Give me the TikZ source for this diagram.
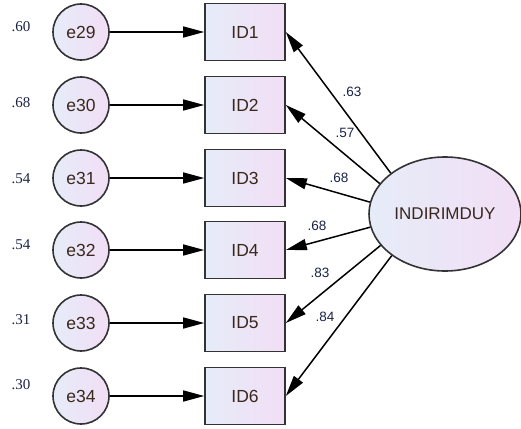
\documentclass[tikz,border=0pt]{standalone}
\usepackage{fontspec}
\setmainfont{Liberation Sans}
\newfontfamily\numfont{Liberation Serif}
\usetikzlibrary{arrows.meta,shapes.geometric}
\definecolor{fillL}{HTML}{E6ECF8}
\definecolor{fillR}{HTML}{F2DEF6}
\definecolor{txt}{HTML}{3A281C}
\definecolor{lbl}{HTML}{1A2246}
\begin{document}
\begin{tikzpicture}[x=1pt,y=-1pt,
  obs/.style={draw=black!80,line width=1.6pt,left color=fillL,right color=fillR,
    minimum width=80pt,minimum height=57pt,inner sep=0pt,
    font=\fontsize{17.5}{17.5}\selectfont,text=txt},
  err/.style={circle,draw=black!80,line width=1.6pt,left color=fillL,right color=fillR,
    minimum size=56pt,inner sep=0pt,font=\fontsize{17.5}{17.5}\selectfont,text=txt},
  lat/.style={ellipse,draw=black!80,line width=1.6pt,left color=fillL,right color=fillR,
    minimum width=152pt,minimum height=114pt,inner sep=0pt,
    font=\fontsize{17}{17}\selectfont,text=txt},
  regarrow/.style={line width=1.5pt,-{Triangle[length=21pt,width=11pt]}},
  varlbl/.style={font=\numfont\fontsize{15}{15}\selectfont,text=lbl,inner sep=0pt},
  wlbl/.style={font=\fontsize{13.5}{13.5}\selectfont,text=lbl,inner sep=0pt}]
\useasboundingbox (0,0) rectangle (521,428);

% latent factor
\node[lat] (F) at (445,214) {INDIRIMDUY};

% indicators, error terms and squared multiple correlations
\foreach \i/\e/\y/\r/\ry in {1/29/32/.60/27,2/30/105/.68/103,3/31/178/.54/179,
                             4/32/250/.54/245,5/33/323/.31/320,6/34/396/.30/385}{
  \node[obs] (ID\i) at (245,\y) {ID\i};
  \node[err] (e\e) at (81,\y) {e\e};
  \node[varlbl] (r\i) at (21,\ry) {\r};
  \draw[regarrow] (e\e) -- (ID\i);
}

% factor loadings
\draw[regarrow] (F.143) -- (ID1.east);
\draw[regarrow] (F.155) -- (ID2.east);
\draw[regarrow] (F.171) -- (ID3.east);
\draw[regarrow] (F.190) -- (ID4.east);
\draw[regarrow] (F.206) -- (ID5.east);
\draw[regarrow] (F.218) -- (ID6.east);

\node[wlbl] (w1) at (352,92) {.63};
\node[wlbl] (w2) at (345,133) {.57};
\node[wlbl] (w3) at (339,178) {.68};
\node[wlbl] (w4) at (317,226) {.68};
\node[wlbl] (w5) at (320,273) {.83};
\node[wlbl] (w6) at (325,317) {.84};
\end{tikzpicture}
\end{document}
